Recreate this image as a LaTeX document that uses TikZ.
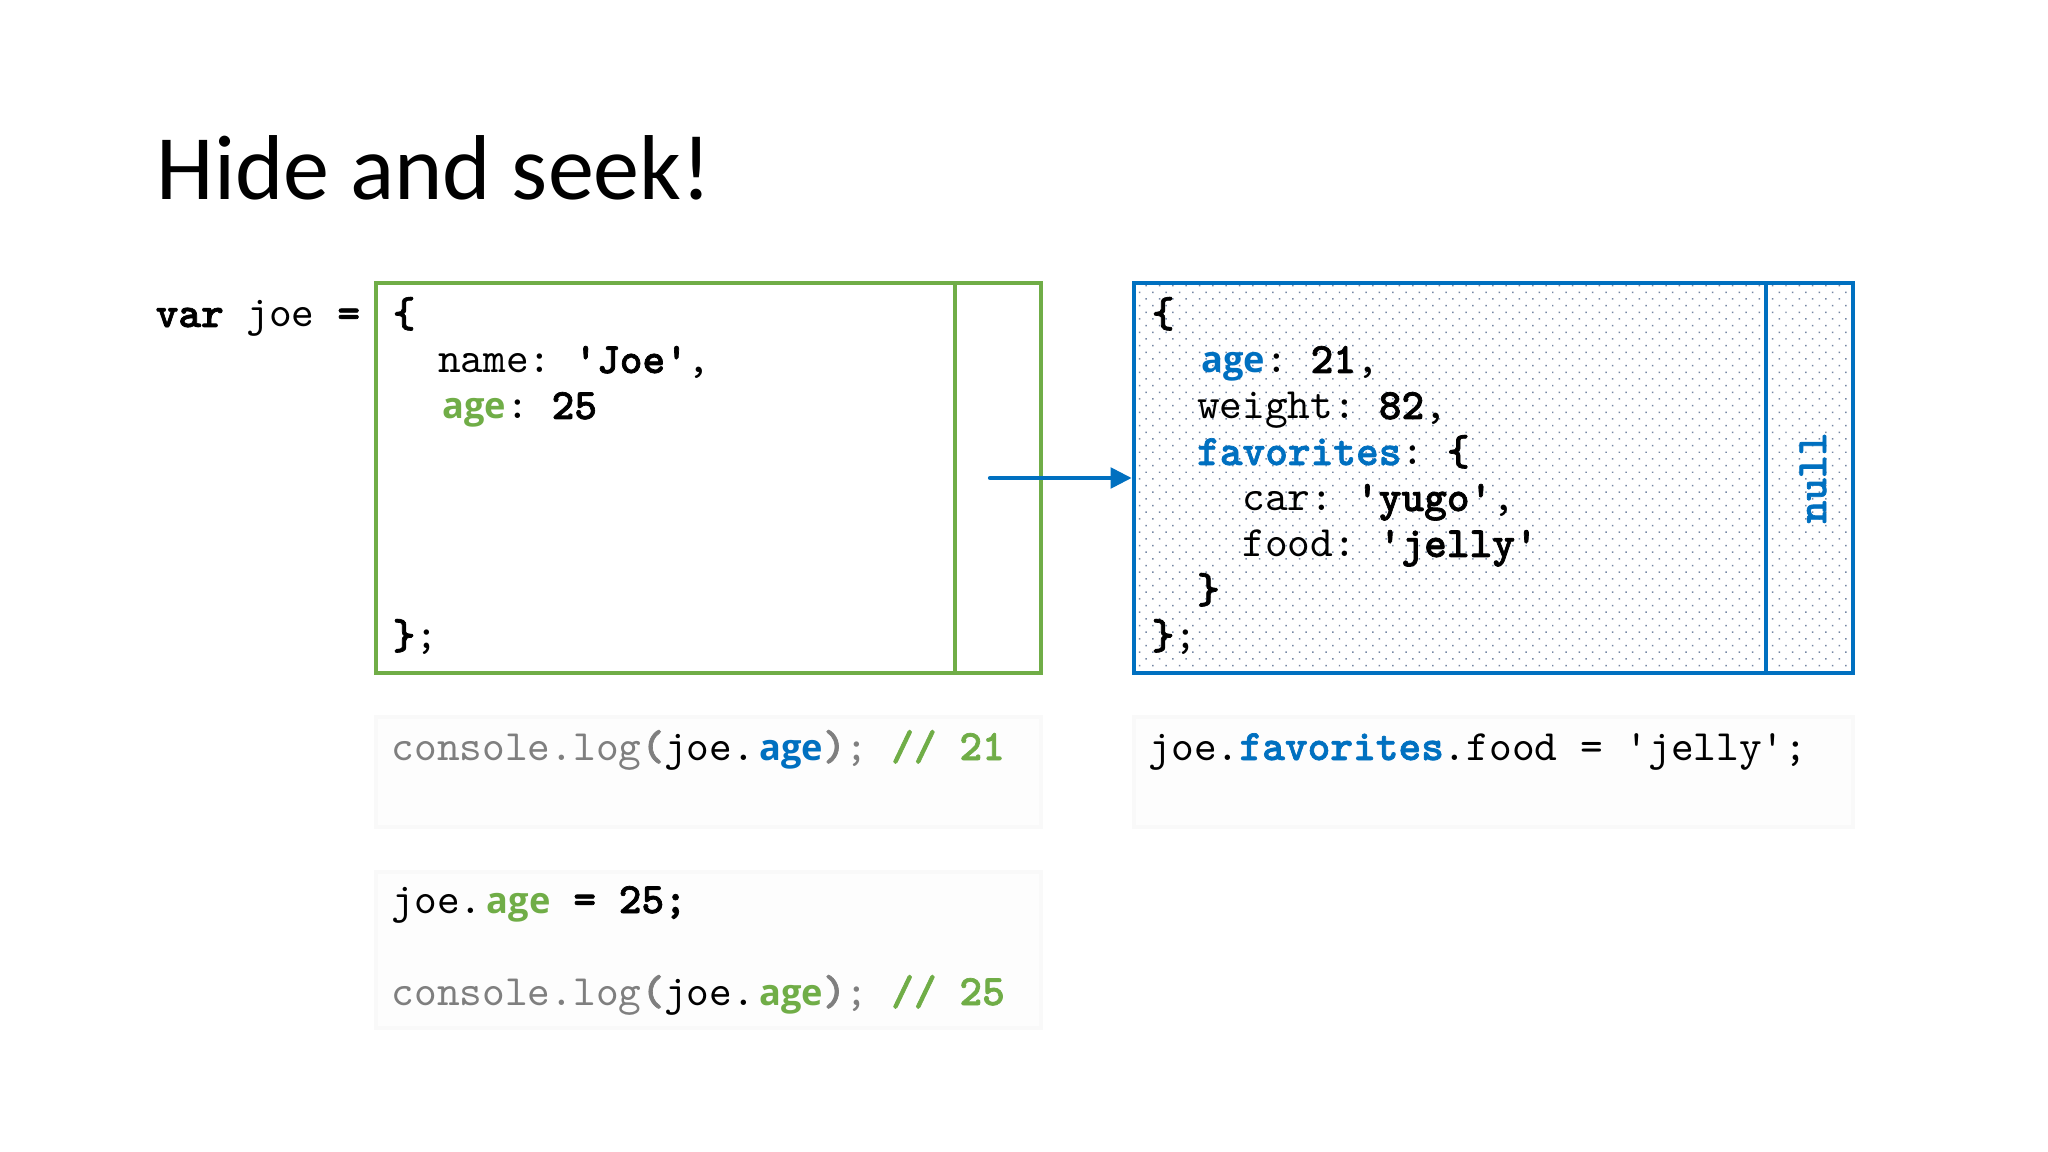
\documentclass[tikz,border=0pt]{standalone}
\usepackage{fontspec}
\setmainfont{Carlito}
\newfontfamily\sanb{Open Sans}
\newfontfamily\mono{lmmono10-regular.otf}[BoldFont=lmmonolt10-bold.otf, BoldFeatures={FakeBold=1.6}]
\usetikzlibrary{patterns.meta,arrows.meta}
\definecolor{jgreen}{HTML}{70AD47}
\definecolor{jblue}{HTML}{0070C0}
\definecolor{jgray}{HTML}{7F7F7F}
\definecolor{dotc}{HTML}{7587A3}
\newcommand\ag[2]{\makebox[1.575em][r]{\color{#1}\sanb\fontsize{10.3}{12}\selectfont\bfseries #2}}
\begin{document}
\begin{tikzpicture}[x=0.01cm,y=-0.01cm,
  code/.style={anchor=base west, inner sep=0pt, font=\mono\fontsize{12.3}{14}\selectfont\frenchspacing},
  objbox/.style={line width=1.2pt, minimum height=3.9cm, inner sep=0pt},
  snip/.style={fill=black!0.8, draw=black!2.5, line width=1pt, inner sep=0pt}]
\useasboundingbox (0,0) rectangle (2048,1152);
\fill[white] (0,0) rectangle (2048,1152);

\node[anchor=base west, inner sep=0pt, font=\fontsize{26.2}{30}\selectfont] (title) at (156,200) {Hide and seek!};

% object boxes
\node[objbox, draw=jgreen, fill=white, minimum width=6.65cm] (gbox) at (708.5,478) {};
\draw[jgreen, line width=1.2pt] (955,283) -- (955,673);
\node[objbox, draw=jblue, pattern={Dots[distance=2.68pt,radius=0.3pt,angle=45]}, pattern color=dotc, minimum width=7.19cm] (bbox) at (1493.5,478) {};
\draw[jblue, line width=1.2pt] (1766,283) -- (1766,673);

% var joe
\node[code] (var) at (155,327) {\textbf{var} joe \textbf{=}};

% green object
\node[code] (g0) at (392,327) {\textbf{\{}};
\node[code] (g1) at (437.4,373) {name: \textbf{'Joe'},};
\node[code] (g2) at (437.4,419) {\ag{jgreen}{age}: \textbf{25}};
\node[code] (g7) at (392,649) {\textbf{\}};};

% blue object
\node[code] (b0) at (1151,327) {\textbf{\{}};
\node[code] (b1) at (1196.4,373) {\ag{jblue}{age}: \textbf{21},};
\node[code] (b2) at (1196.4,419) {weight: \textbf{82},};
\node[code] (b3) at (1196.4,465) {\textcolor{jblue}{\textbf{favorites}}: \textbf{\{}};
\node[code] (b4) at (1241.8,511) {car: \textbf{'yugo'},};
\node[code] (b5) at (1241.8,557) {food: \textbf{'jelly'}};
\node[code] (b6) at (1196.4,603) {\textbf{\}}};
\node[code] (b7) at (1151,649) {\textbf{\}};};
\node[code, anchor=center, text=jblue, rotate=90] (null) at (1813,478) {\textbf{null}};

% arrow
\coordinate (src) at (990,478);
\draw[jblue, line width=1.2pt, line cap=round, -{Triangle[length=6pt,width=5.8pt]}] (src) -- (bbox.west);

% snippets
\node[snip, minimum width=6.65cm, minimum height=1.1cm] (s1) at (708.5,772) {};
\node[snip, minimum width=6.65cm, minimum height=1.56cm] (s2) at (708.5,950) {};
\node[snip, minimum width=7.19cm, minimum height=1.1cm] (s3) at (1493.5,772) {};

\node[code] (c1) at (391,760) {\textcolor{jgray}{console.log\textbf{(}}joe.\ag{jblue}{age}\textcolor{jgray}{\textbf{)};} \textcolor{jgreen}{\textbf{// 21}}};
\node[code] (c2) at (391,913) {joe.\ag{jgreen}{age} \textbf{= 25;}};
\node[code] (c3) at (391,1005) {\textcolor{jgray}{console.log\textbf{(}}joe.\ag{jgreen}{age}\textcolor{jgray}{\textbf{)};} \textcolor{jgreen}{\textbf{// 25}}};
\node[code] (c4) at (1148,760) {joe.\textcolor{jblue}{\textbf{favorites}}.food = 'jelly';};
\end{tikzpicture}
\end{document}
